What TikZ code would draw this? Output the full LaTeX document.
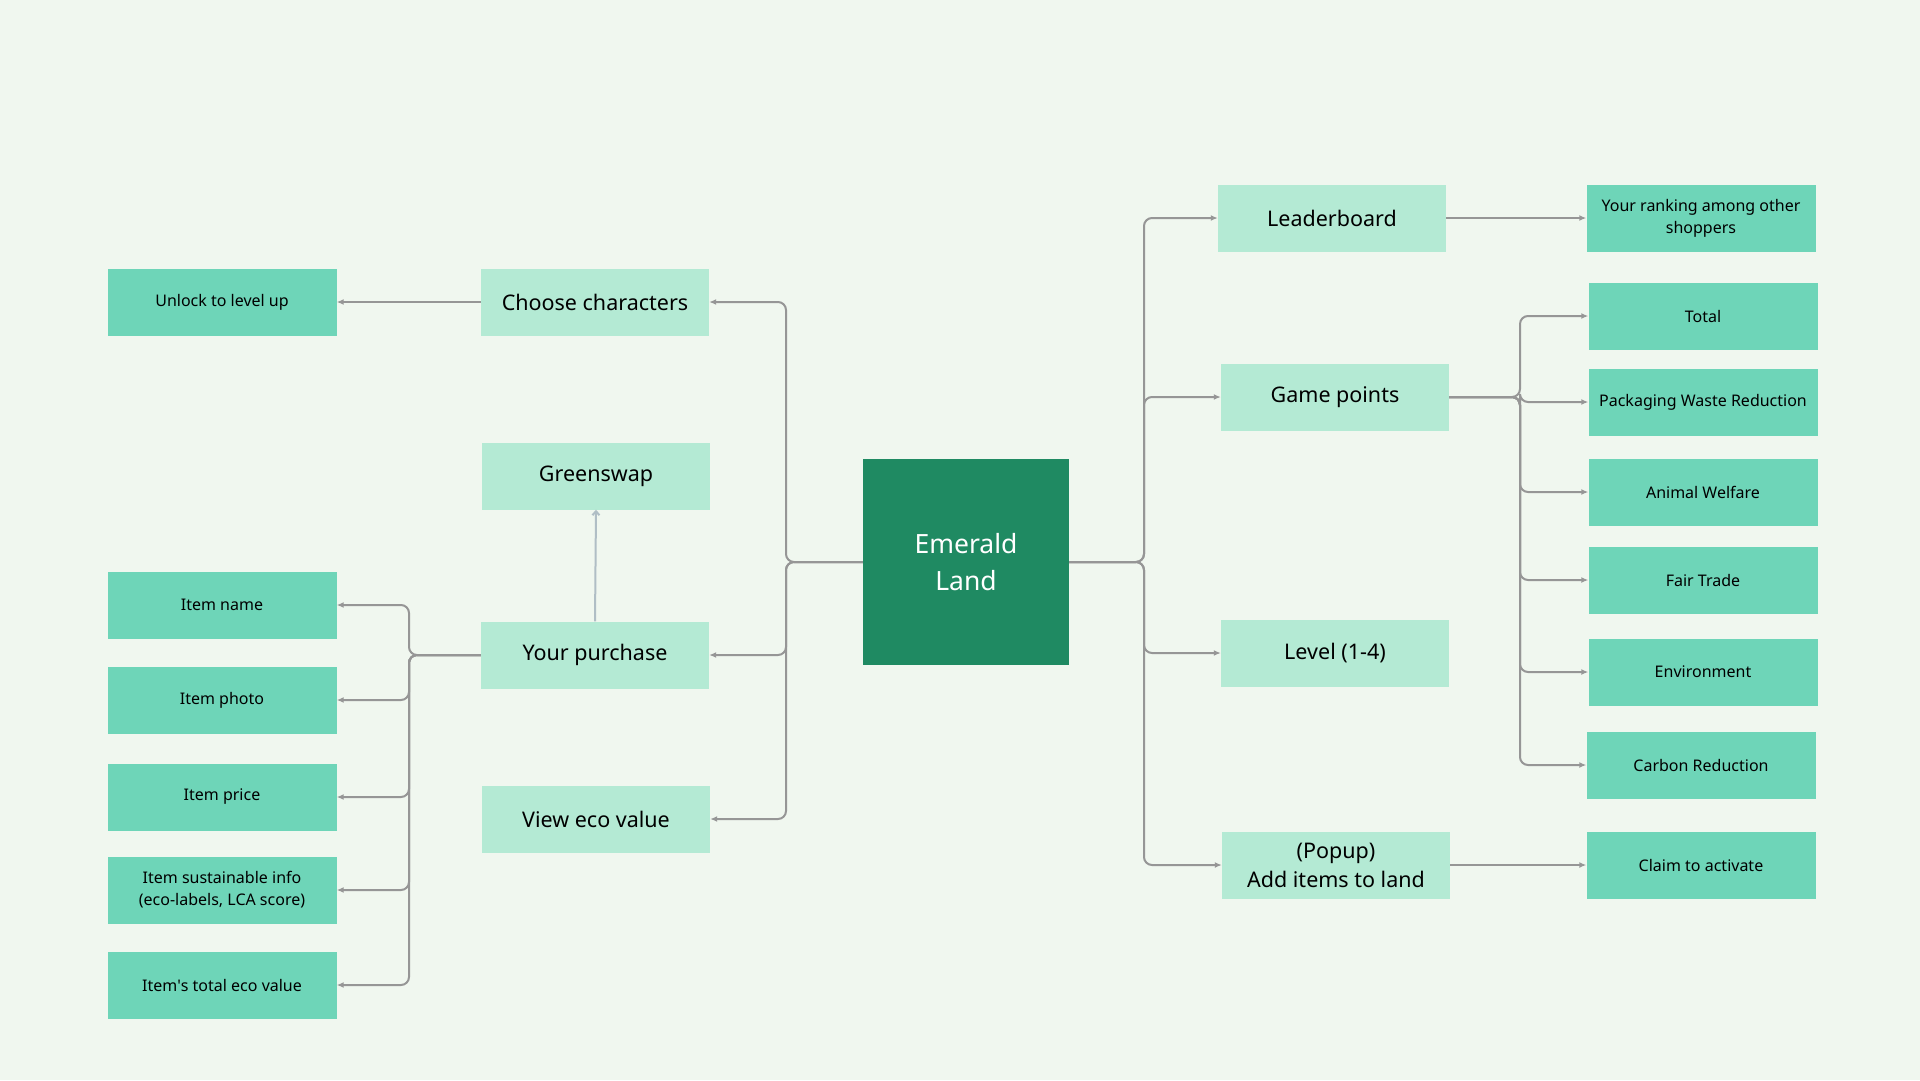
\documentclass[tikz,border=0pt]{standalone}
\usepackage{fontspec}
\setmainfont{Noto Sans}
\usetikzlibrary{arrows.meta}
\definecolor{bgc}{RGB}{240,247,239}
\definecolor{lightbox}{RGB}{180,234,212}
\definecolor{darkbox}{RGB}{110,213,184}
\definecolor{emer}{RGB}{31,138,98}
\definecolor{linec}{RGB}{150,150,150}
\definecolor{linelight}{RGB}{176,190,197}
\tikzset{
  basebox/.style={rectangle, inner sep=0pt, align=center, text=black},
  midbox/.style={basebox, fill=lightbox, minimum width=228pt, minimum height=67pt, font=\fontsize{21.5}{29}\selectfont},
  leafbox/.style={basebox, fill=darkbox, minimum width=229pt, minimum height=67pt, font=\fontsize{16}{22}\selectfont},
  centerbox/.style={basebox, fill=emer, text=white, minimum width=206pt, minimum height=206pt, font=\fontsize{26.5}{37}\selectfont},
  conn/.style={draw=linec, line width=2pt, rounded corners=8pt, -{Latex[length=7pt,width=6pt]}},
  lightconn/.style={draw=linelight, line width=2pt, -{Straight Barb[length=4pt,width=7pt]}}
}
\begin{document}
\begin{tikzpicture}[x=1pt,y=-1pt]
\fill[bgc] (0,0) rectangle (1920,1080);
\useasboundingbox (0,0) rectangle (1920,1080);

% nodes
\node[centerbox] (emerald) at (966,562) {Emerald\\Land};
\node[midbox] (leader) at (1332,218) {Leaderboard};
\node[leafbox] (rank) at (1701,218) {Your ranking among other\\shoppers};
\node[midbox] (game) at (1335,397) {Game points};
\node[leafbox] (total) at (1703,316) {Total};
\node[leafbox] (pack) at (1703,402) {Packaging Waste Reduction};
\node[leafbox] (animal) at (1703,492) {Animal Welfare};
\node[leafbox] (fair) at (1703,580) {Fair Trade};
\node[leafbox] (env) at (1703,672) {Environment};
\node[leafbox] (carbon) at (1701,765) {Carbon Reduction};
\node[midbox] (level) at (1335,653) {Level (1-4)};
\node[midbox] (popup) at (1336,865) {(Popup)\\Add items to land};
\node[leafbox] (claim) at (1701,865) {Claim to activate};

\node[midbox] (choose) at (595,302) {Choose characters};
\node[leafbox] (unlock) at (222,302) {Unlock to level up};
\node[midbox] (green) at (596,476) {Greenswap};
\node[midbox] (purchase) at (595,655) {Your purchase};
\node[midbox] (view) at (596,819) {View eco value};
\node[leafbox] (iname) at (222,605) {Item name};
\node[leafbox] (iphoto) at (222,700) {Item photo};
\node[leafbox] (iprice) at (222,797) {Item price};
\node[leafbox] (isust) at (222,890) {Item sustainable info\\(eco-labels, LCA score)};
\node[leafbox] (itotal) at (222,985) {Item\textquotesingle s total eco value};

% bus coordinates
\coordinate (lbus) at (786,0);
\coordinate (rbus) at (1144,0);
\coordinate (gbus) at (1520,0);
\coordinate (pbus) at (409,0);

% center to left
\draw[conn] (emerald.west) -- (emerald.west -| lbus) |- (choose.east);
\draw[conn] (emerald.west) -- (emerald.west -| lbus) |- (purchase.east);
\draw[conn] (emerald.west) -- (emerald.west -| lbus) |- (view.east);

% center to right
\draw[conn] (emerald.east) -- (emerald.east -| rbus) |- (leader.west);
\draw[conn] (emerald.east) -- (emerald.east -| rbus) |- (game.west);
\draw[conn] (emerald.east) -- (emerald.east -| rbus) |- (level.west);
\draw[conn] (emerald.east) -- (emerald.east -| rbus) |- (popup.west);

% straight links
\draw[conn] (leader.east) -- (rank.west);
\draw[conn] (popup.east) -- (claim.west);
\draw[conn] (choose.west) -- (unlock.east);
\draw[lightconn] (purchase.north) -- (green.south);

% game points branches
\draw[conn] (game.east) -- (game.east -| gbus) |- (total.west);
\draw[conn] (game.east) -- (game.east -| gbus) |- (pack.west);
\draw[conn] (game.east) -- (game.east -| gbus) |- (animal.west);
\draw[conn] (game.east) -- (game.east -| gbus) |- (fair.west);
\draw[conn] (game.east) -- (game.east -| gbus) |- (env.west);
\draw[conn] (game.east) -- (game.east -| gbus) |- (carbon.west);

% purchase branches
\draw[conn] (purchase.west) -- (purchase.west -| pbus) |- (iname.east);
\draw[conn] (purchase.west) -- (purchase.west -| pbus) |- (iphoto.east);
\draw[conn] (purchase.west) -- (purchase.west -| pbus) |- (iprice.east);
\draw[conn] (purchase.west) -- (purchase.west -| pbus) |- (isust.east);
\draw[conn] (purchase.west) -- (purchase.west -| pbus) |- (itotal.east);
\end{tikzpicture}
\end{document}
